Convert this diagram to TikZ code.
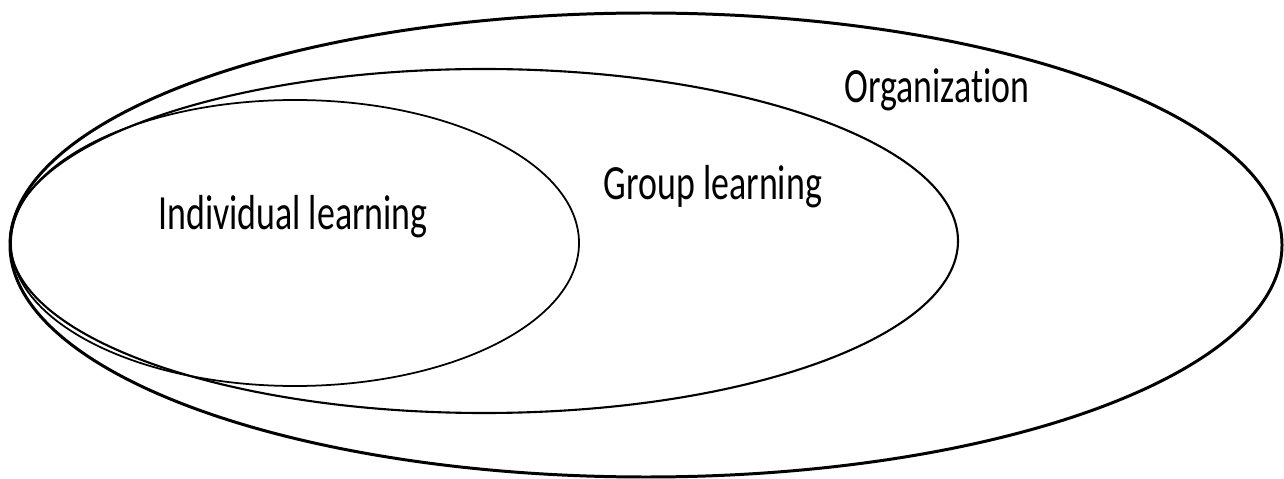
\documentclass[tikz,border=0pt]{standalone}
\usepackage{fontspec}
\newfontfamily\labelfont{Carlito}[FakeStretch=0.73, Ligatures=NoCommon]
\begin{document}
\begin{tikzpicture}[x=0.02cm,y=-0.02cm]
\useasboundingbox (0,0) rectangle (1284,479);
\tikzset{lbl/.style={anchor=base, inner sep=0pt, font=\labelfont\fontsize{28}{32}\selectfont}}

\draw [line width=1.7pt] (646,245) ellipse [x radius=636, y radius=232];
\draw [line width=1.2pt] (484,241) ellipse [x radius=474, y radius=172];
\draw [line width=1pt] (295,243) ellipse [x radius=284, y radius=143];

\node [lbl] (org) at (937,103) {Organization};
\node [lbl] (group) at (713,200) {Group learning};
\node [lbl] (indiv) at (293,230) {Individual learning};
\end{tikzpicture}
\end{document}
